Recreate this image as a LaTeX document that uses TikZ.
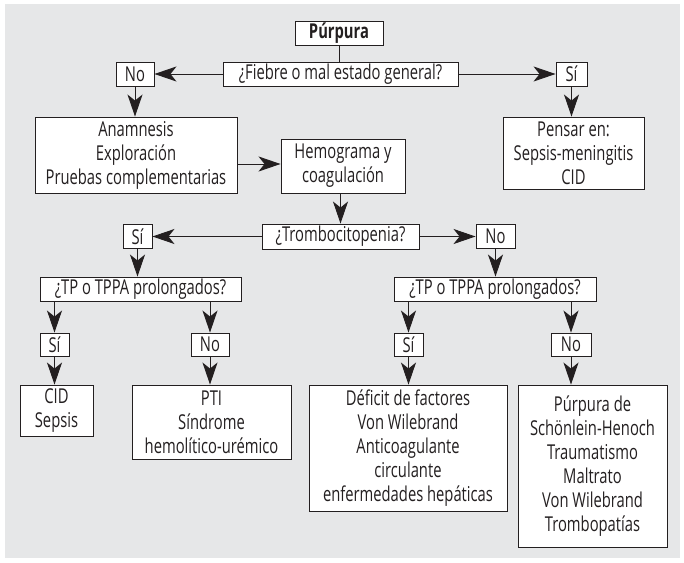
\documentclass[tikz,border=0pt]{standalone}
\usepackage{fontspec}
\setmainfont[FakeStretch=0.72]{Open Sans}
\usetikzlibrary{arrows.meta}
\definecolor{panel}{RGB}{230,231,232}
\definecolor{ink}{RGB}{35,31,32}
\tikzset{
  box/.style={draw=ink, line width=0.9pt, fill=white, text=ink, inner sep=0pt,
    align=center, font=\fontsize{20.5}{24}\selectfont},
  link/.style={draw=ink, line width=0.9pt},
  arr/.style={link, -{Stealth[length=22pt,width=15pt,inset=6pt]}},
}
\newcommand{\bx}[5]{\node[box, minimum width=#3pt, minimum height=#4pt] (#1) at (#2) {#5};}
\begin{document}
\begin{tikzpicture}[x=1pt,y=-1pt]
\useasboundingbox (0,0) rectangle (684,562);
\fill[panel] (5,4) rectangle (680,558);

% top level
\bx{purp}{339,33}{88}{24}{\textbf{Púrpura}}
\bx{fiebre}{340.5,74}{235}{24}{¿Fiebre o mal estado general?}
\bx{no1}{135,74}{38}{24}{No}
\bx{si1}{571.5,74}{31}{24}{Sí}
\bx{anam}{136,155}{202}{76}{Anamnesis\\Exploración\\Pruebas complementarias}
\bx{pensar}{573.5,153}{141}{72}{Pensar en:\\Sepsis-meningitis\\CID}
\bx{hemo}{343,166}{124}{54}{Hemograma y\\coagulación}

% thrombocytopenia
\bx{tromb}{340.5,236.5}{157}{25}{¿Trombocitopenia?}
\bx{si2}{137.5,236.5}{29}{24}{Sí}
\bx{no2}{495.5,236.5}{39}{24}{No}
\bx{tp1}{140.5,289}{201}{24}{¿TP o TPPA prolongados?}
\bx{tp2}{495,289}{202}{24}{¿TP o TPPA prolongados?}
\bx{si3}{54.5,344.5}{29}{23}{Sí}
\bx{no3}{210,344.5}{38}{23}{No}
\bx{si4}{408.5,344.5}{29}{23}{Sí}
\bx{no4}{571,344.5}{40}{23}{No}

% outcomes
\bx{cid}{56.5,410.5}{73}{51}{CID\\Sepsis}
\bx{pti}{211.5,422}{159}{74}{PTI\\Síndrome\\hemolítico-urémico}
\bx{def}{408,448}{198}{126}{Déficit de factores\\Von Wilebrand\\Anticoagulante\\circulante\\enfermedades hepáticas}
\bx{schon}{592.5,466}{149}{162}{Púrpura de\\Schönlein-Henoch\\Traumatismo\\Maltrato\\Von Wilebrand\\Trombopatías}

% connectors
\draw[link] (purp.south) -- (purp.south |- fiebre.north);
\draw[arr] (fiebre.west) -- (no1.east);
\draw[arr] (fiebre.east) -- (si1.west);
\draw[arr] (no1.south) -- (no1.south |- anam.north);
\draw[arr] (si1.south) -- (si1.south |- pensar.north);
\coordinate (hin) at ([yshift=2pt]hemo.west);
\draw[arr] (anam.east |- hin) -- (hin);
\draw[arr] (tromb.north |- hemo.south) -- (tromb.north);
\draw[arr] (tromb.west) -- (si2.east);
\draw[arr] (tromb.east) -- (no2.west);
\draw[arr] (si2.south) -- (si2.south |- tp1.north);
\draw[arr] (no2.south) -- (no2.south |- tp2.north);
\draw[arr] (si3.north |- tp1.south) -- (si3.north);
\draw[arr] (no3.north |- tp1.south) -- (no3.north);
\draw[arr] (si4.north |- tp2.south) -- (si4.north);
\draw[arr] (no4.north |- tp2.south) -- (no4.north);
\draw[arr] (si3.south) -- (si3.south |- cid.north);
\draw[arr] (no3.south) -- (no3.south |- pti.north);
\draw[arr] (si4.south) -- (si4.south |- def.north);
\draw[arr] (no4.south) -- (no4.south |- schon.north);
\end{tikzpicture}
\end{document}
